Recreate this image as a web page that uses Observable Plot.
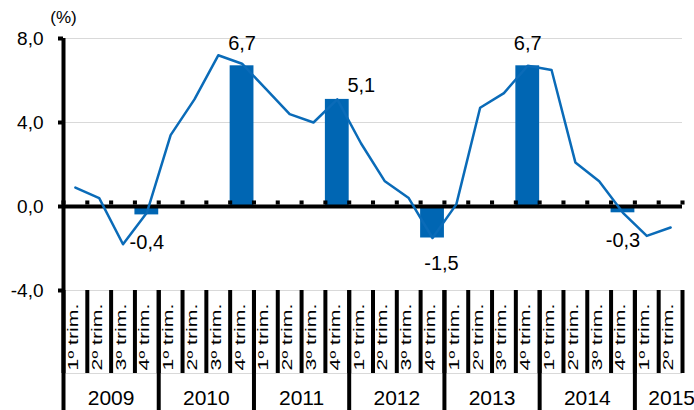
<!DOCTYPE html>
<html><head><meta charset="utf-8">
<script src="https://cdn.jsdelivr.net/npm/d3@7"></script>
<script src="https://cdn.jsdelivr.net/npm/@observablehq/plot@0.6"></script>
<style>body{margin:0;background:#fff}</style>
</head><body><div id="chart"></div>
<script>
// ---- data ----
const years = ["2009","2010","2011","2012","2013","2014","2015"];
const quarterNames = ["1º trim.","2º trim.","3º trim.","4º trim."];
const quarterlyGrowth = [
  0.9, 0.4, -1.8, -0.3,
  3.4, 5.1, 7.2, 6.8,
  5.6, 4.4, 4.0, 5.1,
  3.0, 1.2, 0.4, -1.5,
  0.1, 4.7, 5.4, 6.7,
  6.5, 2.1, 1.2, -0.3,
  -1.4, -1.0
];
const annualYears = ["2009","2010","2011","2012","2013","2014"];
const annualGrowth = [-0.4, 6.7, 5.1, -1.5, 6.7, -0.3];
const yTicks = [-4, 0, 4, 8];
const unitLabel = "(%)";

// ---- derived tables ----
const quarters = years.flatMap(y => quarterNames.map(q => ({year: y, q})))
  .slice(0, quarterlyGrowth.length)
  .map((d, i) => ({...d, i, value: quarterlyGrowth[i]}));
const annual = annualYears.map((y, k) => ({
  year: y,
  value: annualGrowth[k],
  i: quarters.findIndex(d => d.year === y && d.q === "4º trim.")
}));
const yearSpans = years.map(y => {
  const qs = quarters.filter(d => d.year === y);
  return {year: y, start: qs[0].i, end: qs[qs.length - 1].i + 1};
});
const n = quarters.length;

// ---- layout / styles ----
const W = 694, H = 410;
const mL = 63, mR = 12, mT = 38, mB = 120;
const pxY = (H - mT - mB) / 12;          // pixels per y unit
const pxX = (W - mL - mR) / n;           // pixels per quarter
const BAR = "#0066b3", LINE = "#0a6bb8";
const fmt = v => v.toFixed(1).replace(".", ",");
const labelNudge = {"2011": [24, -14], "2012": [9, 26]};

const labelMarks = annual.map(d => {
  const [dx, dy] = labelNudge[d.year] || [0, d.value >= 0 ? -22 : 28];
  return Plot.text([d], {x: d => d.i + 0.5, y: "value", text: d => fmt(d.value),
    dx, dy, fontSize: 20, fill: "black"});
});
const yearLabelMarks = yearSpans.map(d => Plot.text([d], {
  x: d => (d.start + d.end) / 2, text: "year", frameAnchor: "bottom",
  textAnchor: "middle", lineAnchor: "middle", dy: 107.5,
  dx: d.end - d.start < 4 ? 13 : 0, fontSize: 21, fill: "black"}));

const yBottom = -4;
const chart = Plot.plot({
  width: W, height: H,
  marginLeft: mL, marginRight: mR, marginTop: mT, marginBottom: mB,
  style: {fontFamily: "'Liberation Sans', Arial, sans-serif", color: "black", background: "white"},
  x: {type: "linear", domain: [0, n], axis: null},
  y: {domain: [-4, 8]},
  marks: [
    Plot.gridY([-4, 4, 8], {stroke: "#d9d9d9", strokeOpacity: 1, strokeWidth: 1}),
    Plot.ruleY([yBottom - 83 / pxY], {stroke: "#d9d9d9", strokeWidth: 1}),
    Plot.rect(annual, {x1: "i", x2: d => d.i + 1, y1: 0, y2: "value", fill: BAR}),
    Plot.ruleY([0], {stroke: "black", strokeWidth: 4}),
    Plot.dot(d3.range(n + 1), {x: d => d, y: 0, symbol: "square", r: 2.3, fill: "black", dy: -4}),
    Plot.line(quarters, {x: d => d.i + 0.5, y: "value", stroke: LINE, strokeWidth: 2.5}),
    // y axis line + ticks
    Plot.ruleX([0], {y1: 8, y2: yBottom, stroke: "black", strokeWidth: 4}),
    Plot.ruleY(yTicks, {x1: -5 / pxX, x2: 0, stroke: "black", strokeWidth: 4}),
    Plot.axisY({ticks: yTicks, tickFormat: fmt, tickSize: 0, tickPadding: 20,
      fontSize: 19, label: null}),
    // quarter separators
    Plot.ruleX(d3.range(n + 1), {y1: yBottom, y2: yBottom - 83 / pxY, stroke: "black", strokeWidth: 4}),
    // year separators
    Plot.ruleX(yearSpans.map(d => d.start), {y1: yBottom, y2: yBottom - 122 / pxY, stroke: "black", strokeWidth: 4}),
    Plot.text(quarters, {x: d => d.i + 0.5, text: "q", frameAnchor: "bottom",
      rotate: -90, textAnchor: "middle", lineAnchor: "middle", dy: 46.5, dx: -2,
      fontSize: 14, fill: "black", ariaDescription: "quarter-labels"}),
    ...yearLabelMarks,
    ...labelMarks,
    Plot.text([unitLabel], {frameAnchor: "top-left", textAnchor: "middle", lineAnchor: "middle",
      dy: -21, fontSize: 17, fill: "black"})
  ]
});

chart.querySelectorAll('g[aria-description="quarter-labels"] text').forEach(t => {
  t.setAttribute("transform", (t.getAttribute("transform") || "") + " scale(1.52,1)");
});
document.getElementById("chart").appendChild(chart);
</script>
</body></html>
